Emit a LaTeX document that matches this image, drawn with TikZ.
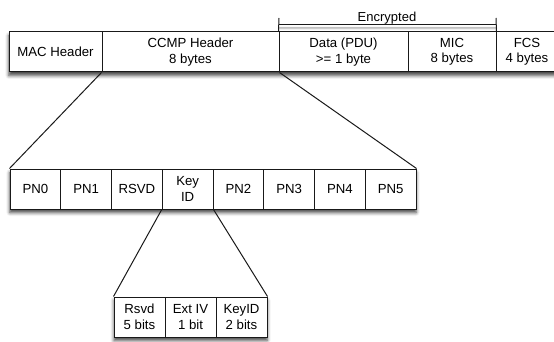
\documentclass[tikz,border=0pt]{standalone}
\usepackage{fontspec}
\setmainfont{Liberation Sans}
\usetikzlibrary{shadows.blur}
\tikzset{
  cell/.style={draw=black!90, line width=1pt, fill=white, minimum height=40pt,
    inner sep=0pt, align=center, text=black,
    font=\fontsize{13.2}{15.5}\selectfont},
  rowshadow/.style={fill=white, blur shadow={shadow xshift=0pt, shadow yshift=-3.5pt,
    shadow blur radius=3.5pt, shadow opacity=75}},
  link/.style={draw=black!90, line width=1pt},
  bracket/.style={draw=black!90, line width=1pt},
}
\begin{document}
\begin{tikzpicture}[x=1pt,y=-1pt]
\useasboundingbox (0,0) rectangle (554,342);

% frame row
\path[rowshadow] (9,32) rectangle (558,72);
\node[cell, minimum width=93pt]  (mac)  at (55.5,52) {MAC Header};
\node[cell, minimum width=177pt] (ccmp) at (190.5,52) {CCMP Header\\8 bytes};
\node[cell, minimum width=129pt] (data) at (343.5,52) {Data (PDU)\\>= 1 byte};
\node[cell, minimum width=88pt]  (mic)  at (452,52) {MIC\\8 bytes};
\node[cell, minimum width=62pt]  (fcs)  at (527,52) {FCS\\4 bytes};

% encrypted span
\coordinate (encL) at (279,18);
\coordinate (encR) at (496,18);
\coordinate (encLm) at (279,25);
\coordinate (encRm) at (496,25);
\path[blur shadow={shadow xshift=0pt, shadow yshift=-3pt, shadow blur radius=1.5pt, shadow opacity=35}]
  (encLm) rectangle (496,25.5);
\draw[bracket] (encL) -- (data.north west);
\draw[bracket] (encR) -- (mic.north east);
\draw[bracket] (encLm) -- (encRm);
\node[font=\fontsize{13}{15}\selectfont, text=black, anchor=base] (enc) at (387,21.5) {Encrypted};

% CCMP header row
\path[rowshadow] (10,169) rectangle (416,209);
\foreach \n/\t [count=\i from 0] in {pn0/PN0, pn1/PN1, rsvd/RSVD, keyid/{Key\\ID}, pn2/PN2, pn3/PN3, pn4/PN4, pn5/PN5}
  \node[cell, minimum width=50.75pt] (\n) at (35.375+50.75*\i,189) {\t};

% Key ID octet
\path[rowshadow] (114,297) rectangle (267,337);
\node[cell, minimum width=51pt] (kr)  at (139.5,317) {Rsvd\\5 bits};
\node[cell, minimum width=51pt] (ext) at (190.5,317) {Ext IV\\1 bit};
\node[cell, minimum width=51pt] (kid) at (241.5,317) {KeyID\\2 bits};

% expansion lines
\draw[link] (ccmp.south west) -- (pn0.north west);
\draw[link] (ccmp.south east) -- (pn5.north east);
\draw[link] (keyid.south west) -- (kr.north west);
\draw[link] (keyid.south east) -- (kid.north east);
\end{tikzpicture}
\end{document}
